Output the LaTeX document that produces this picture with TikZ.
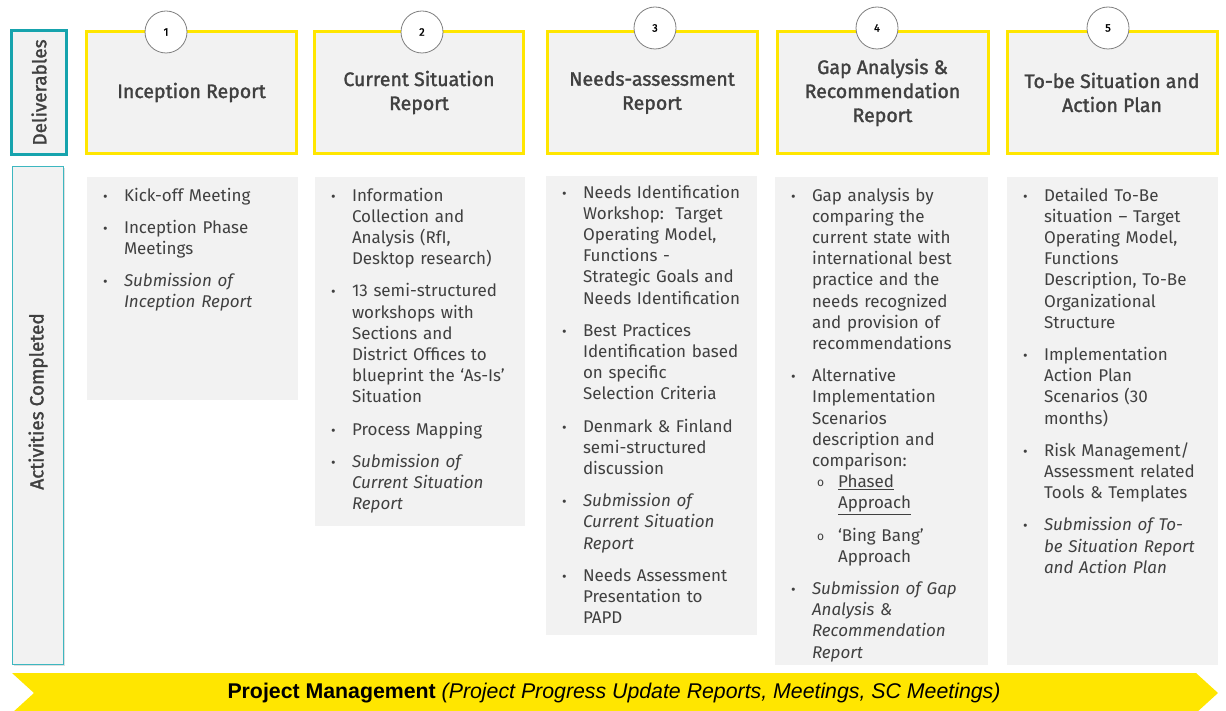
\documentclass[tikz,border=0pt]{standalone}
\usepackage{fontspec}
\setmainfont{Fira Sans}
\newfontfamily\headfont{Fira Sans}[FakeBold=1.6]
\newfontfamily\pmfont{Liberation Sans}
\usetikzlibrary{shadows}

\definecolor{eyyellow}{HTML}{FFE600}
\definecolor{tealline}{HTML}{16A3AD}
\definecolor{tealthin}{HTML}{3DB7C0}
\definecolor{panel}{HTML}{F2F2F2}
\definecolor{txt}{HTML}{404040}
\definecolor{ringgrey}{HTML}{7F7F7F}

% bullet items with hanging indent
\newcommand\itm[1]{\par\hangindent=21pt\hangafter=1\noindent
  \makebox[21pt][l]{\fontsize{14}{14}\selectfont\textbullet}\strut{#1}}
\newcommand\subitm[1]{\par\hangindent=47pt\hangafter=1\noindent
  \hspace*{26pt}\makebox[21pt][l]{\raisebox{1pt}{\fontsize{12}{12}\selectfont o}}\strut{#1}}

\tikzset{
  delivbox/.style={draw=eyyellow, line width=3pt, fill=panel, inner sep=0pt,
    minimum width=210pt, minimum height=122pt, align=center, text=txt,
    font=\headfont\fontsize{19.5}{24}\selectfont},
  actbox/.style={fill=panel, inner sep=0pt},
  acttext/.style={anchor=north west, inner sep=0pt, text width=195pt,
    text=txt, font=\fontsize{17}{21.2}\selectfont\raggedright\setlength\parskip{11pt}},
  stepnum/.style={circle, draw=ringgrey, line width=0.8pt, fill=white,
    minimum size=42pt, inner sep=0pt, font=\headfont\fontsize{11}{11}\selectfont},
  sidelabel/.style={rotate=90, text=txt, font=\headfont\fontsize{19}{22}\selectfont},
}

\begin{document}
\begin{tikzpicture}[x=1pt, y=-1pt]
\useasboundingbox (0,0) rectangle (1226,711);

% ---- left-hand row labels
\node[draw=tealline, line width=3pt, fill=panel, minimum width=55pt, minimum height=124pt,
      inner sep=0pt] (delivlab) at (39,92.5) {};
\node[sidelabel] at (delivlab.center) {Deliverables};
\node[draw=tealthin, line width=1.3pt, fill=panel, minimum width=51pt, minimum height=498pt,
      inner sep=0pt, drop shadow={opacity=0.25, shadow xshift=1pt, shadow yshift=-1.5pt}]
      (actlab) at (38,415.5) {};
\node[sidelabel] at ([yshift=14pt]actlab.center) {Activities Completed};

% ---- deliverables
\node[delivbox] (d1) at (191.5,92.5) {Inception Report};
\node[delivbox, minimum width=209pt] (d2) at (419,92.5) {Current Situation\\Report};
\node[delivbox] (d3) at (652,92.5) {Needs-assessment\\Report};
\node[delivbox, minimum width=211pt] (d4) at (882.5,92.5) {Gap Analysis \&\\Recommendation\\Report};
\node[delivbox] (d5) at (1112,92.5) {To-be Situation and\\Action Plan};

% ---- step numbers
\node[stepnum] (n1) at (166,32) {1};
\node[stepnum] (n2) at (422,32) {2};
\node[stepnum] (n3) at (655,28) {3};
\node[stepnum] (n4) at (877,28) {4};
\node[stepnum] (n5) at (1108,28) {5};

% ---- activity panels
\node[actbox, minimum width=211pt, minimum height=223pt] (a1) at (192.5,288.5) {};
\node[actbox, minimum width=210pt, minimum height=349pt] (a2) at (420,351.5) {};
\node[actbox, minimum width=211pt, minimum height=459pt] (a3) at (651.5,405.5) {};
\node[actbox, minimum width=213pt, minimum height=488pt] (a4) at (881.5,421) {};
\node[actbox, minimum width=211pt, minimum height=488pt] (a5) at (1112.5,421) {};

\node[acttext] (t1) at ([xshift=16pt, yshift=8pt]a1.north west) {%
  \itm{Kick-off Meeting}
  \itm{Inception Phase\newline Meetings}
  \itm{\itshape Submission of\newline Inception Report}\par};

\node[acttext] (t2) at ([xshift=16pt, yshift=8pt]a2.north west) {%
  \itm{Information\newline Collection and\newline Analysis (RfI,\newline Desktop research)}
  \itm{13 semi-structured\newline workshops with\newline Sections and\newline District Offices to\newline blueprint the ‘As-Is’\newline Situation}
  \itm{Process Mapping}
  \itm{\itshape Submission of\newline Current Situation\newline Report}\par};

\node[acttext] (t3) at ([xshift=16pt, yshift=10pt]a3.north west) {%
  \itm{Needs Identification\newline Workshop:\ \ Target\newline Operating Model,\newline Functions -\newline Strategic Goals and\newline Needs Identification}
  \itm{Best Practices\newline Identification based\newline on specific\newline Selection Criteria}
  \itm{Denmark \& Finland\newline semi-structured\newline discussion}
  \itm{\itshape Submission of\newline Current Situation\newline Report}
  \itm{Needs Assessment\newline Presentation to\newline PAPD}\par};

\node[acttext] (t4) at ([xshift=16pt, yshift=8pt]a4.north west) {%
  \itm{Gap analysis by\newline comparing the\newline current state with\newline international best\newline practice and the\newline needs recognized\newline and provision of\newline recommendations}
  \itm{Alternative\newline Implementation\newline Scenarios\newline description and\newline comparison:}\par\vspace{-11pt}
  \subitm{\underline{Phased}\newline\underline{Approach}}
  \subitm{‘Bing Bang’\newline Approach}
  \itm{\itshape Submission of Gap\newline Analysis \&\newline Recommendation\newline Report}\par};

\node[acttext] (t5) at ([xshift=16pt, yshift=8pt]a5.north west) {%
  \itm{Detailed To-Be\newline situation – Target\newline Operating Model,\newline Functions\newline Description, To-Be\newline Organizational\newline Structure}
  \itm{Implementation\newline Action Plan\newline Scenarios (30\newline months)}
  \itm{Risk Management/\newline Assessment related\newline Tools \& Templates}
  \itm{\itshape Submission of To-\newline be Situation Report\newline and Action Plan}\par};

% ---- project management band
\fill[eyyellow] (12,673) -- (1196,673) -- (1218,693) -- (1196,713) -- (12,713)
  -- (34,693) -- cycle;
\node[font=\pmfont\fontsize{21.3}{24}\selectfont, text=black] (pm) at (614,693)
  {\bfseries Project Management \mdseries\itshape(Project Progress Update Reports, Meetings, SC Meetings)};
\end{tikzpicture}
\end{document}
